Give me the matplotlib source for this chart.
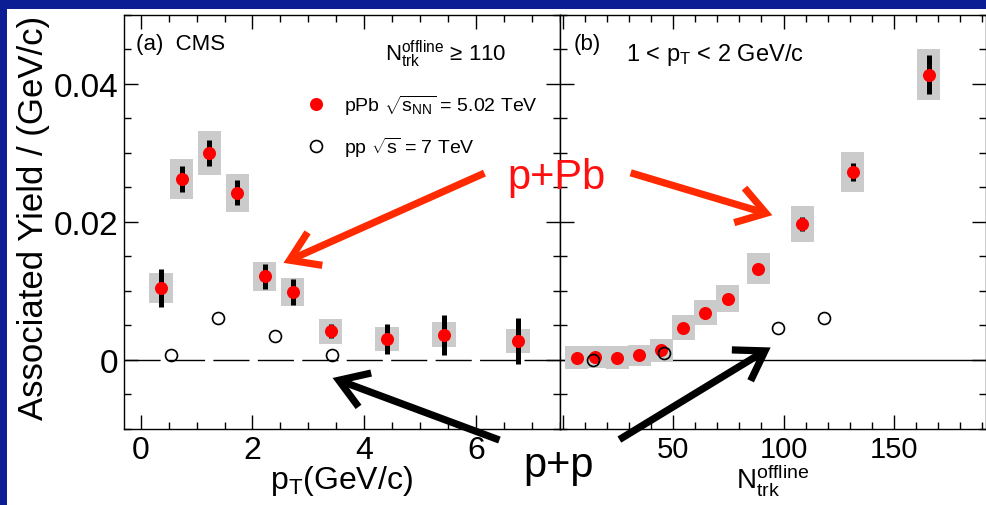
import matplotlib
matplotlib.use("Agg")
import matplotlib.pyplot as plt
from matplotlib.patches import Rectangle, FancyArrowPatch
from matplotlib.ticker import MultipleLocator, NullFormatter, FuncFormatter

plt.rcParams['font.family'] = ['Liberation Sans', 'DejaVu Sans']
plt.rcParams['mathtext.fontset'] = 'custom'
plt.rcParams['mathtext.rm'] = 'Liberation Sans'
plt.rcParams['mathtext.it'] = 'Liberation Sans:italic'
plt.rcParams['mathtext.bf'] = 'Liberation Sans:bold'

# ---------------- data ----------------
# panel (a): associated yield vs pT
pt_ppb = [0.36, 0.73, 1.23, 1.73, 2.22, 2.72, 3.40, 4.41, 5.43, 6.76]
yield_ppb_a = [0.0104, 0.0262, 0.0300, 0.0242, 0.0121, 0.0098, 0.0041, 0.0030, 0.0036, 0.0027]
stat_ppb_a = [0.0028, 0.0019, 0.0019, 0.0018, 0.0018, 0.0019, 0.0010, 0.0022, 0.0029, 0.0034]
syst_ppb_a = [0.0022, 0.0029, 0.0032, 0.0028, 0.0021, 0.0020, 0.0018, 0.0017, 0.0018, 0.0018]
pt_pp = [0.55, 1.39, 2.40, 3.42]
yield_pp_a = [0.0006, 0.0061, 0.0034, 0.0007]

# panel (b): associated yield vs N_trk^offline (1 < pT < 2 GeV/c)
ntrk_ppb = [6.4, 14.7, 24.7, 34.6, 44.7, 54.7, 64.6, 74.7, 88.6, 108.5, 131.3, 165.8]
yield_ppb_b = [0.0003, 0.0004, 0.0003, 0.0006, 0.00145, 0.00464, 0.0068, 0.00884, 0.0132, 0.01966, 0.0272, 0.04135]
stat_ppb_b = [0.0003, 0.0003, 0.0003, 0.0003, 0.0004, 0.0004, 0.0004, 0.0005, 0.0006, 0.0010, 0.0013, 0.0028]
syst_ppb_b = [0.0016, 0.0016, 0.0016, 0.0015, 0.0016, 0.0018, 0.0018, 0.0020, 0.0022, 0.0026, 0.0029, 0.0037]
ntrk_pp = [13.9, 46.1, 97.4, 118.5]
yield_pp_b = [-0.0001, 0.0009, 0.0046, 0.0061]

label_ppb = r"pPb $\sqrt{\mathrm{s}_{\mathrm{NN}}}$ = 5.02 TeV"
label_pp = r"pp $\sqrt{\mathrm{s}}$ = 7 TeV"

# ---------------- figure ----------------
W, H = 986, 506
fig = plt.figure(figsize=(W / 100, H / 100), dpi=100)
fig.patch.set_facecolor('#0b1e93')
fig.add_artist(Rectangle((7 / W, 0), 1, (H - 10) / H, transform=fig.transFigure,
                         facecolor='white', edgecolor='none', zorder=-5))

bot = 1 - 429.5 / H
top = 1 - 16 / H
xl, xm, xr = 124 / W, 559.5 / W, 985.5 / W
axa = fig.add_axes([xl, bot, xm - xl, top - bot])
axb = fig.add_axes([xm, bot, xr - xm, top - bot])

RED = '#ff0000'
BOX = '#cbcbcb'


def draw(ax, x, y, stat, syst, halfw, xpp, ypp):
    for xi, yi, s in zip(x, y, syst):
        ax.add_patch(Rectangle((xi - halfw, yi - s), 2 * halfw, 2 * s,
                               facecolor=BOX, edgecolor='none', zorder=2))
    ax.errorbar(x, y, yerr=stat, fmt='none', ecolor='black', elinewidth=3.6,
                capsize=0, zorder=3)
    ax.plot(x, y, 'o', color=RED, markersize=9.4, markeredgewidth=0, zorder=4,
            label=label_ppb)
    ax.plot(xpp, ypp, 'o', markerfacecolor='none', markeredgecolor='black',
            markersize=8.6, markeredgewidth=1.2, zorder=5, label=label_pp)


draw(axa, pt_ppb, yield_ppb_a, stat_ppb_a, syst_ppb_a, 0.21, pt_pp, yield_pp_a)
draw(axb, ntrk_ppb, yield_ppb_b, stat_ppb_b, syst_ppb_b, 5.2, ntrk_pp, yield_pp_b)

axa.axhline(0, color='black', lw=1.0, dashes=(26, 6), zorder=1)
axb.axhline(0, color='black', lw=1.0, zorder=1)

axa.set_xlim(-0.3, 7.5)
axb.set_xlim(-1.4, 191.4)
for ax in (axa, axb):
    ax.set_ylim(-0.01, 0.05)
    ax.yaxis.set_major_locator(MultipleLocator(0.02))
    ax.yaxis.set_minor_locator(MultipleLocator(0.005))
    ax.tick_params(which='both', direction='in', top=True, right=True,
                   width=1.0, color='black')
    ax.tick_params(which='major', length=10)
    ax.tick_params(which='minor', length=5)
    for sp in ax.spines.values():
        sp.set_linewidth(1.0)
axa.xaxis.set_major_locator(MultipleLocator(2))
axa.xaxis.set_minor_locator(MultipleLocator(0.5))
axb.xaxis.set_major_locator(MultipleLocator(50))
axb.xaxis.set_minor_locator(MultipleLocator(10))

axa.tick_params(axis='y', which='major', labelsize=24, pad=4)
axa.tick_params(axis='x', which='major', labelsize=23, pad=5)
axa.yaxis.set_major_formatter(FuncFormatter(
    lambda v, p: '0' if abs(v) < 1e-9 else ('%.2f' % v)))
axb.tick_params(axis='x', which='major', labelsize=21, pad=5)
axb.xaxis.set_major_formatter(FuncFormatter(
    lambda v, p: '' if abs(v) < 1e-9 else ('%d' % round(v))))
axb.yaxis.set_major_formatter(NullFormatter())

fig.text(34 / W, 1 - 218 / H, 'Associated Yield / (GeV/c)', fontsize=25,
         rotation=90, ha='center', va='center')
axa.set_xlabel(r'$\mathrm{p}_{\mathrm{T}}$(GeV/c)', fontsize=23, labelpad=-2)
axb.set_xlabel(r'$\mathrm{N}_{\mathrm{trk}}^{\mathrm{offline}}$', fontsize=20, labelpad=-2)

axa.text(0.028, 0.93, '(a)  CMS', transform=axa.transAxes, fontsize=16,
         ha='left', va='center')
axa.text(0.599, 0.906, r'$\mathrm{N}_{\mathrm{trk}}^{\mathrm{offline}}$ ≥ 110',
         transform=axa.transAxes, fontsize=16, ha='left', va='center')
axb.text(0.032, 0.93, '(b)', transform=axb.transAxes, fontsize=16,
         ha='left', va='center')
axb.text(0.156, 0.906, r'1 < $\mathrm{p}_{\mathrm{T}}$ < 2 GeV/c',
         transform=axb.transAxes, fontsize=17, ha='left', va='center')

leg = axa.legend(loc='upper left', bbox_to_anchor=(0.4186, 0.812), frameon=False,
                 fontsize=14, handlelength=1.0, handletextpad=0.95,
                 borderpad=0, borderaxespad=0, labelspacing=0.9)


# annotations (positions given in picture pixels from the top-left corner)
def fp(x, y):
    return (x / W, 1 - y / H)


arrows = [
    ((487, 173), (281, 265), '#ff2a00'),
    ((628, 173), (775, 217), '#ff2a00'),
    ((502, 442), (330, 378), 'black'),
    ((617, 442), (773, 347), 'black'),
]
for a, b, c in arrows:
    fig.add_artist(FancyArrowPatch(fp(*a), fp(*b), transform=fig.transFigure,
                                   arrowstyle='->,head_length=1.0,head_width=0.65',
                                   mutation_scale=20, lw=5.2, color=c,
                                   capstyle='butt', joinstyle='miter', zorder=10))

fig.text(557 / W, 1 - 189 / H, 'p+Pb', color='#ff1010', fontsize=30,
         ha='center', va='baseline', zorder=11)
fig.text(559 / W, 1 - 477 / H, 'p+p', color='black', fontsize=30,
         ha='center', va='baseline', zorder=11)

fig.savefig('out.png', dpi=100, facecolor=fig.get_facecolor())
